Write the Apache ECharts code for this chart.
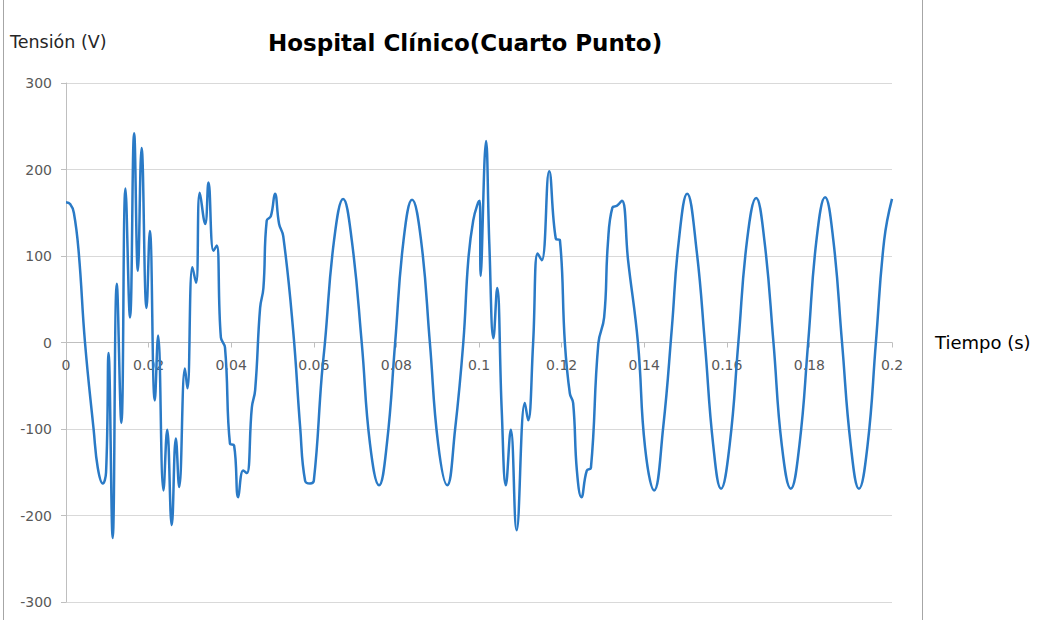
<!DOCTYPE html>
<html>
<head>
<meta charset="utf-8">
<script src="https://cdn.jsdelivr.net/npm/echarts@6/dist/echarts.min.js"></script>
<style>
html,body{margin:0;padding:0;background:#fff;}
#chart{width:1041px;height:620px;}
</style>
</head>
<body>
<div id="chart"></div>
<script>
// Time (s) and voltage (V)
const timeS = [
  0.0000, 0.0010, 0.0019, 0.0031, 0.0046, 0.0067, 0.0077, 0.0089, 0.0097, 0.0103,
  0.0113, 0.0123, 0.0134, 0.0144, 0.0155, 0.0165, 0.0174, 0.0183, 0.0195, 0.0203,
  0.0215, 0.0223, 0.0236, 0.0245, 0.0256, 0.0266, 0.0274, 0.0288, 0.0294, 0.0306,
  0.0315, 0.0324, 0.0337, 0.0345, 0.0357, 0.0365, 0.0375, 0.0385, 0.0397, 0.0407,
  0.0417, 0.0429, 0.0438, 0.0450, 0.0458, 0.0470, 0.0478, 0.0486, 0.0496, 0.0506,
  0.0516, 0.0526, 0.0550, 0.0567, 0.0579, 0.0591, 0.0600, 0.0619, 0.0627, 0.0649,
  0.0671, 0.0692, 0.0716, 0.0736, 0.0758, 0.0777, 0.0797, 0.0817, 0.0838, 0.0860,
  0.0881, 0.0901, 0.0923, 0.0942, 0.0962, 0.0974, 0.0986, 0.0998, 0.1002, 0.1004,
  0.1017, 0.1025, 0.1035, 0.1044, 0.1055, 0.1065, 0.1077, 0.1091, 0.1111, 0.1119,
  0.1131, 0.1142, 0.1152, 0.1170, 0.1186, 0.1196, 0.1208, 0.1220, 0.1228, 0.1237,
  0.1248, 0.1261, 0.1271, 0.1289, 0.1303, 0.1312, 0.1323, 0.1334, 0.1346, 0.1361,
  0.1385, 0.1402, 0.1424, 0.1446, 0.1467, 0.1483, 0.1504, 0.1527, 0.1547, 0.1567,
  0.1586, 0.1607, 0.1628, 0.1649, 0.1671, 0.1691, 0.1713, 0.1733, 0.1755, 0.1776,
  0.1797, 0.1817, 0.1838, 0.1858, 0.1879, 0.1900, 0.1920, 0.1941, 0.1961, 0.1981,
  0.2000
];
const voltage = [
  162, 160, 150, 103, 0, -101, -145, -163, -150, -12,
  -226, 68, -93, 178, 29, 242, 83, 225, 40, 129,
  -67, 8, -171, -101, -211, -111, -167, -30, -53, 87,
  69, 173, 137, 185, 106, 112, 6, -6, -117, -119,
  -179, -148, -151, -75, -55, 40, 63, 141, 146, 172,
  137, 123, 14, -98, -160, -163, -160, -40, 0, 118,
  166, 118, 0, -117, -165, -117, 0, 117, 165, 117,
  0, -117, -165, -101, 0, 95, 141, 162, 164, 77,
  233, 114, 5, 63, -78, -165, -101, -217, -70, -90,
  -1, 103, 95, 198, 120, 118, -1, -59, -70, -148,
  -179, -148, -145, -1, 29, 114, 156, 158, 164, 95,
  -1, -121, -171, -98, 17, 114, 172, 106, -1, -118,
  -169, -118, 0, 118, 167, 118, 0, -118, -169, -118,
  0, 118, 168, 118, 0, -118, -169, -118, 0, 118,
  166
];
const chartTitle = 'Hospital Clínico(Cuarto Punto)';
const yAxisName = 'Tensión (V)';
const xAxisName = 'Tiempo (s)';
const xMin = 0, xMax = 0.2, xStep = 0.02;
const yMin = -300, yMax = 300, yStep = 100;

const chart = echarts.init(document.getElementById('chart'), null, {renderer: 'svg'});
const font = 'DejaVu Sans';
chart.setOption({
  animation: false,
  backgroundColor: '#ffffff',
  textStyle: {fontFamily: font},
  title: {
    text: chartTitle,
    left: 263, top: 26,
    textStyle: {fontFamily: font, fontSize: 23, fontWeight: 'bold', color: '#000000'}
  },
  graphic: [
    {type: 'line', shape: {x1: 3.5, y1: 0, x2: 3.5, y2: 620}, style: {stroke: '#a6a6a6', lineWidth: 1}, silent: true},
    {type: 'line', shape: {x1: 922.5, y1: 0, x2: 922.5, y2: 620}, style: {stroke: '#a6a6a6', lineWidth: 1}, silent: true},
    {type: 'text', left: 10, top: 33, style: {text: yAxisName, fontFamily: font, fontSize: 17.5, fill: '#262626'}}
  ],
  grid: {left: 66, right: 149, top: 83, bottom: 18, containLabel: false, outerBoundsMode: 'none'},
  xAxis: {
    type: 'value', min: xMin, max: xMax, interval: xStep,
    offset: -259.5,
    name: xAxisName, nameLocation: 'end', nameGap: 43,
    nameTextStyle: {fontFamily: font, fontSize: 18, color: '#000000', verticalAlign: 'middle'},
    axisLine: {onZero: false, lineStyle: {color: '#bfbfbf', width: 1}},
    axisTick: {show: true, length: 5, inside: false, lineStyle: {color: '#bfbfbf'}},
    axisLabel: {color: '#595959', fontSize: 14, margin: 15, fontFamily: font},
    splitLine: {show: false}
  },
  yAxis: {
    type: 'value', min: yMin, max: yMax, interval: yStep,
    axisLine: {show: true, lineStyle: {color: '#bfbfbf', width: 1}},
    axisTick: {show: true, length: 5, lineStyle: {color: '#bfbfbf'}},
    axisLabel: {color: '#595959', fontSize: 14, margin: 14, fontFamily: font},
    splitLine: {show: true, lineStyle: {color: '#d9d9d9', width: 1}}
  },
  series: [{
    type: 'line',
    data: timeS.map((t, i) => [t, voltage[i]]),
    smooth: 0.45,
    showSymbol: false,
    lineStyle: {color: '#2a7ac6', width: 2.5},
    z: 3
  }]
});
</script>
</body>
</html>
